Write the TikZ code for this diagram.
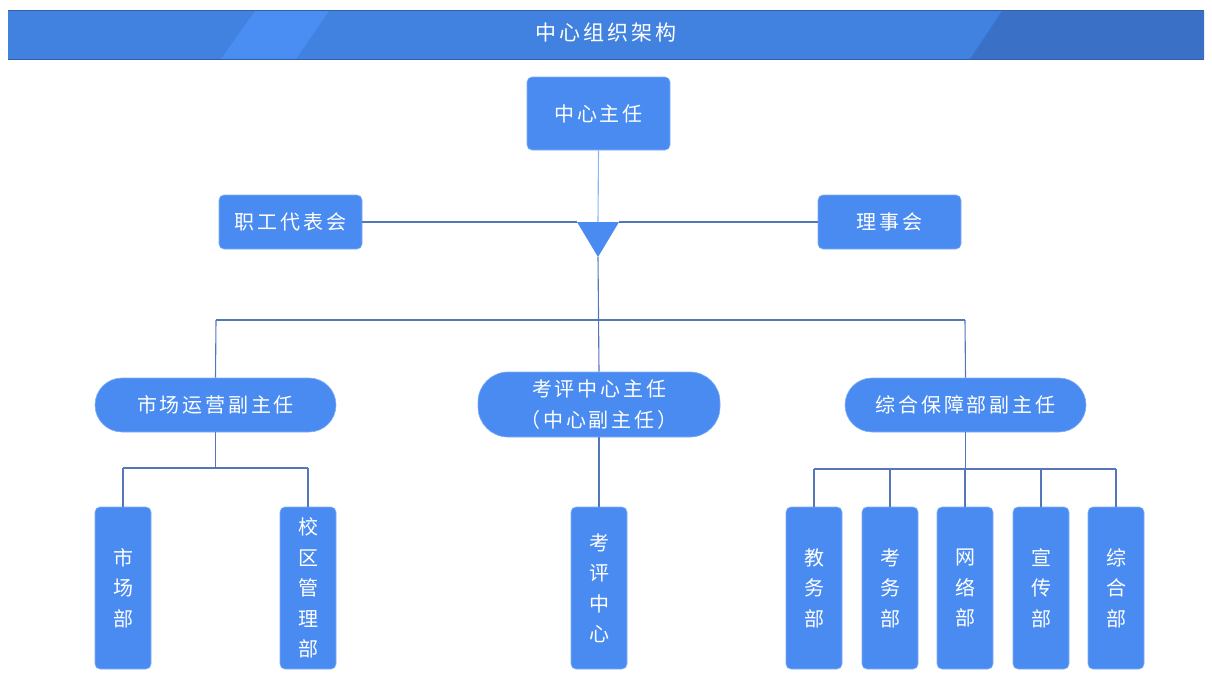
\documentclass[tikz,border=0pt]{standalone}
\usepackage{fontspec}
\newfontfamily\cjk[LetterSpace=14]{Noto Sans CJK SC}
\definecolor{boxblue}{HTML}{4A8BF2}
\definecolor{barblue}{HTML}{4181E0}
\definecolor{barlight}{HTML}{4A8EF3}
\definecolor{bardark}{HTML}{3A70C6}
\definecolor{linec}{HTML}{5576B8}
\definecolor{linelight}{HTML}{8DB6F5}
\tikzset{
  box/.style={draw=boxblue!70!white, line width=0.6pt, fill=boxblue, rounded corners=5pt, text=white, font=\cjk\fontsize{20}{23}\selectfont, inner sep=0pt},
  pill/.style={box, rounded corners=27pt},
  vbox/.style={box, align=center, font=\cjk\fontsize{20}{30.5}\selectfont},
  conn/.style={draw=linec, line width=1.1pt}
}
\begin{document}
\begin{tikzpicture}[x=1pt,y=-1pt]
\useasboundingbox (0,0) rectangle (1212,697);
% header
\fill[barblue] (8,10) rectangle (1204,60);
\fill[barlight] (255,11) -- (329,11) -- (296,59) -- (221,59) -- cycle;
\fill[bardark] (1002,11) -- (1204,11) -- (1204,59) -- (970,59) -- cycle;
\draw[bardark!85!black, line width=1pt] (8,10.5) -- (1204,10.5);
\draw[bardark!85!black, line width=1pt] (8,59.5) -- (1204,59.5);
\node[text=white, font=\cjk\fontsize{21}{23}\selectfont] (title) at (606,33) {中心组织架构};
% top level
\node[box, minimum width=143pt, minimum height=73pt] (zr) at (598.5,113.5) {中心主任};
\node[box, minimum width=143pt, minimum height=54pt] (zg) at (290.5,222) {职工代表会};
\node[box, minimum width=143pt, minimum height=54pt] (ls) at (889.5,222) {理事会};
% triangle
\coordinate (tl) at (577,222);
\coordinate (tr) at (619,222);
\coordinate (ta) at (598,257);
\coordinate (tt) at (598,222);
\fill[boxblue] (tl) -- (tr) -- (ta) -- cycle;
\draw[draw=linelight, line width=1.1pt] (zr.south) -- (tt);
\draw[conn] (zg.east) -- (tl);
\draw[conn] (tr) -- (ls.west);
% middle level
\node[pill, minimum width=241pt, minimum height=54pt] (sc) at (215.5,405) {市场运营副主任};
\node[pill, minimum width=242pt, minimum height=65pt, rounded corners=30pt, align=center, font=\cjk\fontsize{20}{31}\selectfont] (kp) at (599,404.5) {考评中心主任\\（中心副主任）};
\node[pill, minimum width=241pt, minimum height=54pt] (zh) at (965.5,405) {综合保障部副主任};
\coordinate (j1) at (598,320);
\coordinate (jl) at (216,320);
\coordinate (jr) at (965,320);
\draw[conn] (ta) -- (kp.north);
\draw[conn] (jl) -- (jr);
\draw[conn] (jl) -- (sc.north);
\draw[conn] (jr) -- (zh.north);
% bottom level
\node[vbox, minimum width=56pt, minimum height=162pt] (b1) at (123,588) {市\\场\\部};
\node[vbox, minimum width=56pt, minimum height=162pt] (b2) at (308,588) {校\\区\\管\\理\\部};
\node[vbox, minimum width=56pt, minimum height=162pt] (b3) at (599,588) {考\\评\\中\\心};
\node[vbox, minimum width=56pt, minimum height=162pt] (b4) at (814,588) {教\\务\\部};
\node[vbox, minimum width=56pt, minimum height=162pt] (b5) at (890,588) {考\\务\\部};
\node[vbox, minimum width=56pt, minimum height=162pt] (b6) at (965,588) {网\\络\\部};
\node[vbox, minimum width=56pt, minimum height=162pt] (b7) at (1041,588) {宣\\传\\部};
\node[vbox, minimum width=56pt, minimum height=162pt] (b8) at (1116,588) {综\\合\\部};
% left branch
\coordinate (l1) at (123,468);
\coordinate (l2) at (308,468);
\draw[conn] (sc.south) -- (sc.south |- l1);
\draw[conn] (l1) -- (l2);
\draw[conn] (l1) -- (b1.north);
\draw[conn] (l2) -- (b2.north);
% middle branch
\draw[conn] (kp.south) -- (b3.north);
% right branch
\coordinate (r1) at (814,469);
\coordinate (r5) at (1116,469);
\draw[conn] (zh.south) -- (zh.south |- r1);
\draw[conn] (r1) -- (r5);
\foreach \b in {b4,b5,b6,b7,b8} \draw[conn] (\b.north |- r1) -- (\b.north);
\end{tikzpicture}
\end{document}
